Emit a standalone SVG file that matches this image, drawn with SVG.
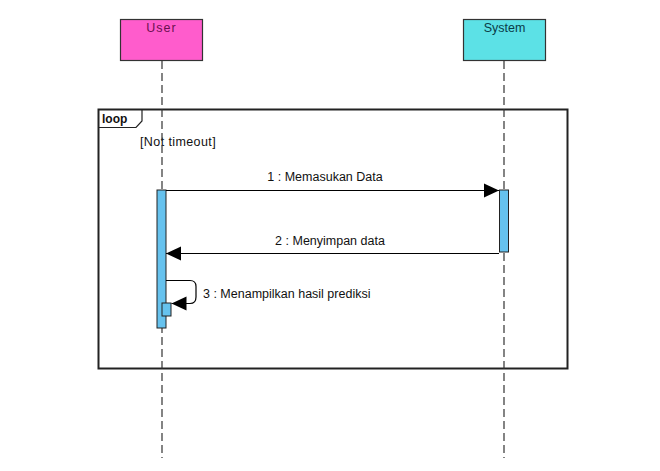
<svg xmlns="http://www.w3.org/2000/svg" width="660" height="471" viewBox="0 0 660 471">
<style>
text{font-family:"Liberation Sans",Arial,sans-serif;font-size:12.5px;fill:#111}
.life{stroke:#333;stroke-width:1.2;stroke-dasharray:8,4;fill:none}
.msg{stroke:#000;stroke-width:1.2;fill:none}
.act{fill:#66c2ee;stroke:#222;stroke-width:1}
</style>
<defs>
<marker id="ah" markerWidth="16" markerHeight="16" refX="15" refY="8" orient="auto" markerUnits="userSpaceOnUse">
<path d="M0,1 L15,8 L0,15 Z" fill="#000"/>
</marker>
</defs>
<rect width="660" height="471" fill="#fff"/>
<g id="loop">
<rect x="98.5" y="109.5" width="469" height="259" fill="none" stroke="#222" stroke-width="2"/>
<path d="M98.5,127.5 H136 L142,121 V109.5" fill="none" stroke="#222" stroke-width="1.2"/>
<text x="102" y="123" style="font-weight:bold;font-size:12px">loop</text>
<text x="140" y="146" style="letter-spacing:0.4px">[Not timeout]</text>
</g>
<g id="user">
<rect x="120.5" y="19.5" width="82" height="41" fill="#ff5ccc" stroke="#333" stroke-width="1.2"/>
<text x="161.5" y="32" text-anchor="middle" style="fill:#6a1050;letter-spacing:1px">User</text>
<line class="life" x1="162" y1="61" x2="162" y2="458"/>
</g>
<g id="system">
<rect x="463.5" y="19.5" width="82" height="41" fill="#5ce1e6" stroke="#333" stroke-width="1.2"/>
<text x="504.5" y="32" text-anchor="middle" style="fill:#0b3c48">System</text>
<line class="life" x1="504" y1="61" x2="504" y2="458"/>
</g>
<g id="activations">
<rect class="act" x="157" y="190" width="9" height="138"/>
<rect class="act" x="499.5" y="190" width="9" height="62"/>
<rect class="act" x="162" y="303" width="9" height="13"/>
</g>
<g id="connectors">
<line class="msg" x1="166" y1="190.5" x2="499" y2="190.5" marker-end="url(#ah)"/>
<text x="325" y="181" text-anchor="middle">1 : Memasukan Data</text>
<line class="msg" x1="499" y1="253.5" x2="166" y2="253.5" marker-end="url(#ah)"/>
<text x="330" y="245" text-anchor="middle">2 : Menyimpan data</text>
<path class="msg" d="M166,280.5 H190 Q196,280.5 196,286.5 V297 Q196,303.5 190,303.5 H171.5" marker-end="url(#ah)"/>
<text x="203" y="298">3 : Menampilkan hasil prediksi</text>
</g>
</svg>
